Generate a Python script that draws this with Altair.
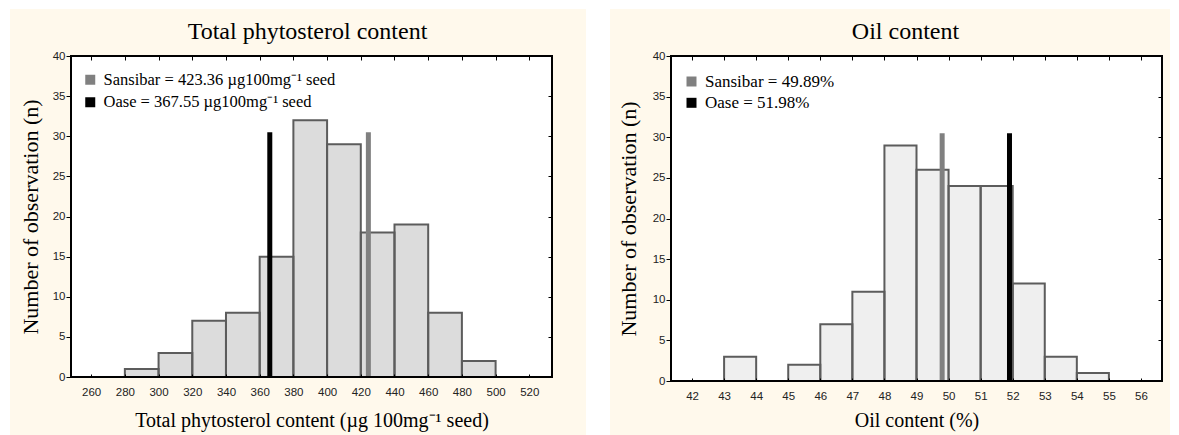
import altair as alt
import pandas as pd

SERIF = "Liberation Serif"
SANS = "Liberation Sans"
CREAM = "#FFF9EC"

# ---------------- data: left panel ----------------
phyto_title = "Total phytosterol content"
phyto_xtitle = "Total phytosterol content (µg 100mg⁻¹ seed)"
phyto_bin_start = [280, 300, 320, 340, 360, 380, 400, 420, 440, 460, 480]
phyto_bin_end = [300, 320, 340, 360, 380, 400, 420, 440, 460, 480, 500]
phyto_counts = [1, 3, 7, 8, 15, 32, 29, 18, 19, 8, 2]
phyto_cultivars = ["Sansibar = 423.36 µg100mg⁻¹ seed", "Oase = 367.55 µg100mg⁻¹ seed"]
phyto_cultivar_x = [424.5, 366.0]
phyto_cultivar_top = [30.5, 30.5]
phyto_xticks = [260, 280, 300, 320, 340, 360, 380, 400, 420, 440, 460, 480, 500, 520]

# ---------------- data: right panel ----------------
oil_title = "Oil content"
oil_xtitle = "Oil content (%)"
oil_bin_start = [43, 45, 46, 47, 48, 49, 50, 51, 52, 53, 54]
oil_bin_end = [44, 46, 47, 48, 49, 50, 51, 52, 53, 54, 55]
oil_counts = [3, 2, 7, 11, 29, 26, 24, 24, 12, 3, 1]
oil_cultivars = ["Sansibar = 49.89%", "Oase = 51.98%"]
oil_cultivar_x = [49.8, 51.9]
oil_cultivar_top = [30.5, 30.5]
oil_xticks = [42, 43, 44, 45, 46, 47, 48, 49, 50, 51, 52, 53, 54, 55, 56]

y_ticks = [0, 5, 10, 15, 20, 25, 30, 35, 40]
y_title = "Number of observation (n)"
cultivar_colors = ["#808080", "#000000"]


def panel(title, xtitle, starts, ends, counts, names, mx, mtop, xdomain, xticks,
          W, H, fill, bg_x, bg_x2, bg_y2, ytitle_pad, xtitle_pad, title_dx,
          leg_x, leg_y, row_pad, leg_size):
    bars = pd.DataFrame({"start": starts, "end": ends, "count": counts})
    marks = pd.DataFrame({"name": names, "x": mx, "top": mtop})
    xs = alt.Scale(domain=xdomain, nice=False, zero=False)
    ys = alt.Scale(domain=[0, 40], nice=False)
    one = alt.Data(values=[{}])

    background = alt.Chart(one).mark_rect(fill=CREAM, strokeWidth=0).encode(
        x=alt.value(bg_x), x2=alt.value(W + bg_x2),
        y=alt.value(-47), y2=alt.value(H + bg_y2))
    plotbg = alt.Chart(one).mark_rect(fill="white", strokeWidth=0).encode(
        x=alt.value(0), x2=alt.value(W), y=alt.value(0), y2=alt.value(H))
    heading = alt.Chart(one).mark_text(
        text=title, font=SERIF, fontSize=24, color="black", align="center",
        baseline="alphabetic").encode(
        x=alt.value(W / 2 + title_dx), y=alt.value(-17))

    main_x = alt.Axis(orient="bottom", values=xticks, ticks=False, tickSize=0,
                      domain=False, grid=False, labelFont=SANS, labelFontSize=11.5,
                      labelColor="#222222", labelPadding=9, labelFlush=False,
                      labelOverlap=False, title=xtitle, titleFont=SERIF,
                      titleFontSize=20, titleFontWeight="normal", titleColor="black",
                      titlePadding=xtitle_pad, zindex=1)
    main_y = alt.Axis(orient="left", values=y_ticks, tickSize=5, tickColor="black",
                      tickWidth=1, domain=False, grid=False, labelFont=SANS,
                      labelFontSize=11.5, labelColor="#222222", labelPadding=1,
                      title=y_title, titleFont=SERIF, titleFontSize=22,
                      titleFontWeight="normal", titleColor="black",
                      titlePadding=ytitle_pad, zindex=1)
    ticks_top = alt.Axis(orient="bottom", offset=-H, values=xticks, labels=False,
                         domain=False, grid=False, tickSize=4, tickColor="black",
                         title=None, zindex=1)
    ticks_bottom = alt.Axis(orient="top", offset=-H, values=xticks, labels=False,
                            domain=False, grid=False, tickSize=3, tickColor="black",
                            title=None, zindex=1)
    ticks_right = alt.Axis(orient="left", offset=-W, values=y_ticks, labels=False,
                           domain=False, grid=False, tickSize=4, tickColor="black",
                           title=None, zindex=1)

    fills = alt.Chart(bars).mark_rect(fill=fill, strokeWidth=0).encode(
        x=alt.X("start:Q", scale=xs, axis=main_x),
        x2="end:Q",
        y=alt.Y("count:Q", scale=ys, axis=main_y),
        y2=alt.datum(0),
    )
    outlines = alt.Chart(bars).mark_rect(fillOpacity=0, stroke="#5c5c5c",
                                         strokeWidth=2).encode(
        x=alt.X("start:Q", scale=xs, axis=ticks_top),
        x2="end:Q",
        y=alt.Y("count:Q", scale=ys, axis=None),
        y2=alt.datum(0),
    )
    markers = alt.Chart(marks).mark_bar(width=5).encode(
        x=alt.X("x:Q", scale=xs, axis=ticks_bottom),
        y=alt.Y("top:Q", scale=ys, axis=ticks_right),
        y2=alt.datum(0),
        color=alt.Color("name:N",
                        scale=alt.Scale(domain=names, range=cultivar_colors),
                        legend=alt.Legend(title=None, orient="none", legendX=leg_x,
                                          legendY=leg_y, symbolType="square",
                                          symbolSize=100, symbolStrokeWidth=0,
                                          labelFont=SERIF, labelFontSize=leg_size,
                                          labelColor="black", labelOffset=5,
                                          labelLimit=500, rowPadding=row_pad,
                                          padding=0, zindex=1)),
    )
    frame = alt.Chart(one).mark_rect(fillOpacity=0, stroke="black",
                                     strokeWidth=2).encode(
        x=alt.value(0), x2=alt.value(W), y=alt.value(0), y2=alt.value(H))

    return alt.layer(background, plotbg, heading, fills, outlines, markers,
                     frame).resolve_axis(
        x="independent", y="independent"
    ).properties(width=W, height=H)


left = panel(phyto_title, phyto_xtitle, phyto_bin_start, phyto_bin_end, phyto_counts,
             phyto_cultivars, phyto_cultivar_x, phyto_cultivar_top, [251, 530.5],
             phyto_xticks, 481, 321, "#dcdcdc", -61, 34, 60, 10, 13, -4, 11, 15.5,
             5.5, 16.5)
right = panel(oil_title, oil_xtitle, oil_bin_start, oil_bin_end, oil_counts,
              oil_cultivars, oil_cultivar_x, oil_cultivar_top, [41.5, 56.5],
              oil_xticks, 491, 325, "#efefef", -61, 8, 56, 12, 9, -11, 12, 17,
              3.3, 17)

chart = alt.hconcat(left, right, spacing=24).resolve_scale(
    color="independent"
).properties(
    padding={"left": 2, "top": 1, "right": 0, "bottom": 0},
    background="white",
).configure_view(strokeWidth=0)

chart.save("out.html", embed_options={"renderer": "svg", "actions": False})
